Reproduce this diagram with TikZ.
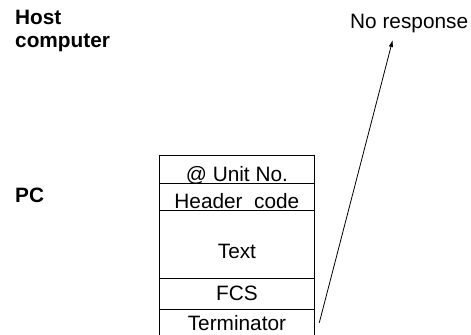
\documentclass[tikz,border=0pt]{standalone}
\usepackage{fontspec}
\setmainfont{Liberation Sans}
\usetikzlibrary{arrows.meta}
\begin{document}
\begin{tikzpicture}[x=1bp,y=-1bp,
  font=\fontsize{20.8bp}{23bp}\selectfont,
  row/.style={draw, line width=0.8bp, minimum width=155bp, inner sep=0pt, anchor=north west},
  lbl/.style={inner sep=0pt, anchor=base west, align=left},
  conn/.style={line width=0.8bp, -{Latex[length=7bp,width=4.5bp]}}]
\useasboundingbox (0,0) rectangle (471,334);
% side labels
\node[lbl, font=\fontsize{20.8bp}{23bp}\selectfont\bfseries] (host) at (15,47) {Host\\computer};
\node[lbl, font=\fontsize{20.8bp}{23bp}\selectfont\bfseries] (pc) at (15,202) {PC};
% frame rows
\node[row, text height=26bp, text depth=2bp] (unit) at (159,155) {@ Unit No.};
\node[row, text height=25bp, text depth=2bp] (header) at (159,183) {Header\ \ code};
\node[row, text height=48bp, text depth=20bp] (text) at (159,210) {Text};
\node[row, text height=22bp, text depth=9bp] (fcs) at (159,278) {FCS};
\node[row, text height=21bp, text depth=7bp] (term) at (159,309) {Terminator};
% response
\node[lbl] (noresp) at (350,28) {No response};
\coordinate (tail) at (319.3,322.7);
\coordinate (tip) at (392.7,40);
\draw[conn] (tail) -- (tip);
\end{tikzpicture}
\end{document}
